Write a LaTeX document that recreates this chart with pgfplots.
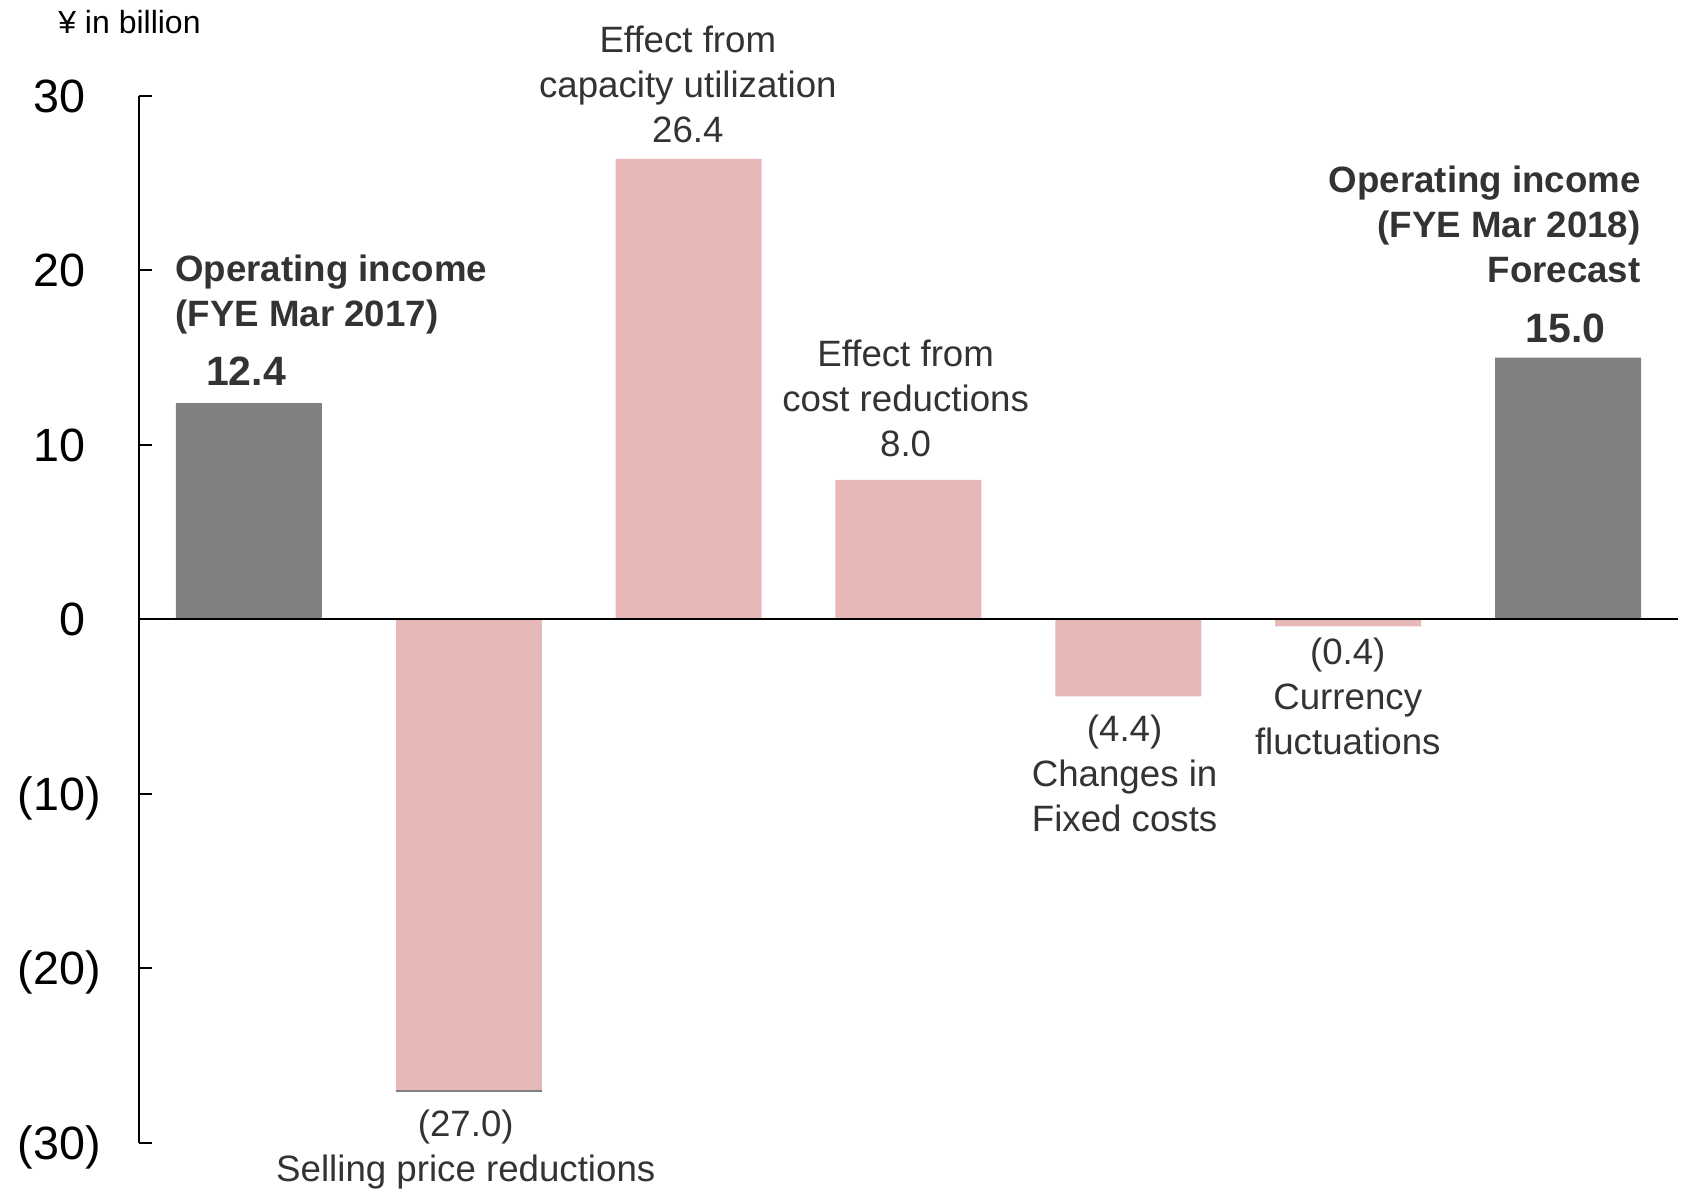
\documentclass[border=0pt]{standalone}
\usepackage{pgfplots}
\pgfplotsset{compat=1.18}
\usepackage{fontspec}
\setmainfont{Liberation Sans}
\definecolor{barGray}{HTML}{808080}
\definecolor{barPink}{HTML}{E6B8B7}
\definecolor{txt}{HTML}{333333}
\tikzset{lbl/.style={inner sep=0pt, outer sep=0pt, text=txt}}
\begin{document}
\begin{tikzpicture}
\useasboundingbox (-41.7pt,-14.7pt) rectangle (462.6pt,342.9pt);
\begin{axis}[
  at={(0,0)}, anchor=south west,
  scale only axis, width=461.7pt, height=314.1pt,
  xmin=-0.5, xmax=6.5, ymin=-30, ymax=30,
  axis x line=none, axis y line=left,
  y axis line style={-, line width=0.6pt, black},
  ytick={-30,-20,-10,0,10,20,30},
  yticklabels={{\vphantom{0}\smash{(30\rlap{)}}},{\vphantom{0}\smash{(20\rlap{)}}},{\vphantom{0}\smash{(10\rlap{)}}},{0},{10},{20},{30}},
  tick align=inside, major tick length=4pt,
  ytick style={black, line width=0.6pt},
  yticklabel style={font=\fontsize{14}{16}\selectfont, anchor=east, inner sep=0pt, xshift=-15.9pt, text=black},
  bar width=43.8pt,
  clip=false,
]
\addplot[ybar, bar shift=0pt, fill=barGray, draw=none] coordinates {(0,12.4) (6,15.0)};
\addplot[ybar, bar shift=0pt, fill=barPink, draw=none] coordinates {(1,-27.0) (2,26.4) (3,8.0) (4,-4.4) (5,-0.4)};
\addplot[sharp plot, no markers, color=gray, line width=0.6pt] coordinates {(0.668,-27.0) (1.332,-27.0)};
\addplot[sharp plot, no markers, color=black, line width=0.6pt] coordinates {(-0.5,0) (6.5,0)};

\node[lbl, anchor=west, font=\fontsize{9.6}{11}\selectfont, text=black] at (axis cs:-0.867,34.24) {¥ in billion};

\node[lbl, anchor=north west, align=left, font=\fontsize{11}{13.5}\selectfont\bfseries] at (axis cs:-0.3344,20.89) {Operating income\\(FYE Mar 2017)};
\node[lbl, anchor=north, font=\fontsize{12.3}{14}\selectfont\bfseries] at (axis cs:-0.0132,15.07) {12.4};

\node[lbl, anchor=north, align=center, font=\fontsize{11}{13.5}\selectfont] at (axis cs:0.9864,-28.11) {(27.0)\\Selling price reductions};
\node[lbl, anchor=north, align=center, font=\fontsize{11}{13.5}\selectfont] at (axis cs:1.9964,34.01) {Effect from\\capacity utilization\\26.4};
\node[lbl, anchor=north, align=center, font=\fontsize{11}{13.5}\selectfont] at (axis cs:2.987,16.02) {Effect from\\cost reductions\\8.0};
\node[lbl, anchor=north, align=center, font=\fontsize{11}{13.5}\selectfont] at (axis cs:3.983,-5.47) {(4.4)\\Changes in\\Fixed costs};
\node[lbl, anchor=north, align=center, font=\fontsize{11}{13.5}\selectfont] at (axis cs:4.998,-1.06) {(0.4)\\Currency\\fluctuations};

\node[lbl, anchor=north east, align=right, font=\fontsize{11}{13.5}\selectfont\bfseries] at (axis cs:6.330,25.99) {Operating income\\(FYE Mar 2018)\\Forecast};
\node[lbl, anchor=north, font=\fontsize{12.3}{14}\selectfont\bfseries] at (axis cs:5.990,17.54) {15.0};
\end{axis}
\end{tikzpicture}
\end{document}
